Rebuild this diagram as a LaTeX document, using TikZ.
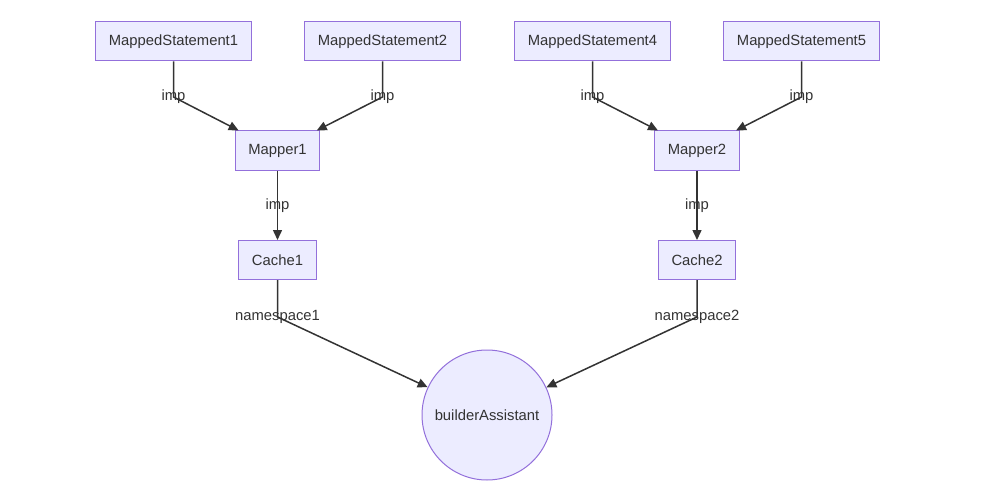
\documentclass[tikz,border=0pt]{standalone}
\usepackage{fontspec}
\setmainfont{Liberation Sans}
\usetikzlibrary{arrows.meta}
\definecolor{boxfill}{HTML}{ECECFF}
\definecolor{boxline}{HTML}{9370DB}
\definecolor{ink}{HTML}{333333}
\tikzset{
  box/.style={draw=boxline, fill=boxfill, line width=1pt, text=ink, inner xsep=13pt, minimum height=39pt},
  ball/.style={circle, draw=boxline, fill=boxfill, line width=1pt, text=ink, minimum size=130pt},
  edge/.style={draw=ink, line width=1.5pt, -{Triangle[length=10pt,width=9pt]}},
  lbl/.style={text=ink, inner sep=0pt}
}
\begin{document}
\begin{tikzpicture}[x=1pt, y=-1pt, font=\fontsize{14.8}{16}\selectfont]
\useasboundingbox (0,0) rectangle (985,500);
\node [box] (MS1) at (173.5,41.5) {MappedStatement1};
\node [box] (MS2) at (382.5,41.5) {MappedStatement2};
\node [box] (MS4) at (592.5,41.5) {MappedStatement4};
\node [box] (MS5) at (801.5,41.5) {MappedStatement5};
\node [box] (Mapper1) at (277.5,150.5) {Mapper1};
\node [box] (Mapper2) at (697,150.5) {Mapper2};
\node [box] (Cache1) at (277.5,260) {Cache1};
\node [box] (Cache2) at (697,260) {Cache2};
\node [ball] (Builder) at (487,415) {builderAssistant};

% bend points where the labels sit
\coordinate (b1) at (173.5,97);
\coordinate (b2) at (382.5,97);
\coordinate (b4) at (592.5,97);
\coordinate (b5) at (801.5,97);
\coordinate (c1) at (277.5,317);
\coordinate (c2) at (697,317);

\draw [edge] (MS1) -- (b1) -- (Mapper1);
\draw [edge] (MS2) -- (b2) -- (Mapper1);
\draw [edge] (MS4) -- (b4) -- (Mapper2);
\draw [edge] (MS5) -- (b5) -- (Mapper2);
\draw [edge] (Mapper1) -- (Cache1) node [lbl, midway] {imp};
\draw [edge] (Mapper2) -- (Cache2) node [lbl, midway] {imp};
\draw [edge] (Cache1) -- (c1) -- (Builder);
\draw [edge] (Cache2) -- (c2) -- (Builder);

% labels on the bends
\node [lbl] at (b1) {imp};
\node [lbl] at (b2) {imp};
\node [lbl] at (b4) {imp};
\node [lbl] at (b5) {imp};
\node [lbl] at (c1) {namespace1};
\node [lbl] at (c2) {namespace2};
\end{tikzpicture}
\end{document}
